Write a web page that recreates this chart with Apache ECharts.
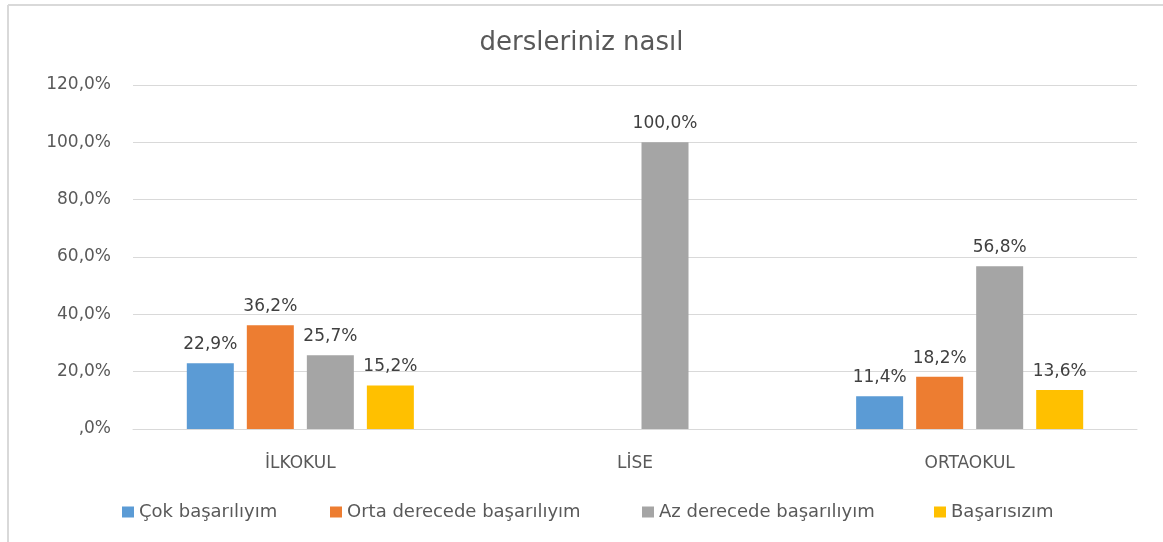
<!DOCTYPE html>
<html>
<head>
<meta charset="utf-8">
<script src="https://cdn.jsdelivr.net/npm/echarts@6/dist/echarts.min.js"></script>
<style>
html, body { margin: 0; padding: 0; background: #fff; }
#chart { width: 1163px; height: 542px; }
</style>
</head>
<body>
<div id="chart"></div>
<script>
var categories = ["İLKOKUL", "LİSE", "ORTAOKUL"];
var seriesNames = ["Çok başarılıyım", "Orta derecede başarılıyım", "Az derecede başarılıyım", "Başarısızım"];
var cokBasarili = [22.9, null, 11.4];
var ortaDerece = [36.2, null, 18.2];
var azDerece = [25.7, 100.0, 56.8];
var basarisiz = [15.2, null, 13.6];
var colors = ["#5b9bd5", "#ed7d31", "#a5a5a5", "#ffc000"];

var fmt = function (v) {
	// Excel biçimi: ,0% (baştaki sıfır yok)
	var s = Number(v).toFixed(1).replace(".", ",");
	if (s.indexOf("0,") === 0) s = s.substring(1);
	return s + "%";
};

var chart = echarts.init(document.getElementById("chart"));
var allData = [cokBasarili, ortaDerece, azDerece, basarisiz];
var legendLeft = [122, 330, 642, 934];
var font = "DejaVu Sans";

var series = [];
var legends = [];
for (var i = 0; i < seriesNames.length; i++) {
	series.push({
		name: seriesNames[i],
		type: "bar",
		data: allData[i],
		barWidth: 47,
		barGap: "27.7%",
		itemStyle: { color: colors[i] },
		label: {
			show: true,
			position: "top",
			distance: 10,
			color: "#404040",
			fontFamily: font,
			fontSize: 17,
			formatter: function (p) { return fmt(p.value); }
		}
	});
	legends.push({
		data: [seriesNames[i]],
		left: legendLeft[i],
		top: 503,
		padding: 0,
		itemWidth: 12,
		itemHeight: 11,
		icon: "rect",
		itemGap: 4,
		textStyle: { color: "#595959", fontFamily: font, fontSize: 18 }
	});
}

chart.setOption({
	animation: false,
	title: {
		text: "dersleriniz nasıl",
		left: "center",
		top: 25,
		textStyle: { color: "#595959", fontFamily: font, fontSize: 26, fontWeight: "normal" }
	},
	legend: legends,
	grid: { left: 133, right: 26, top: 85, bottom: 113 },
	xAxis: {
		type: "category",
		data: categories,
		axisLine: { lineStyle: { color: "#d9d9d9" } },
		axisTick: { show: false },
		axisLabel: { color: "#595959", fontFamily: font, fontSize: 17, margin: 26 }
	},
	yAxis: {
		type: "value",
		min: 0,
		max: 120,
		interval: 20,
		axisLine: { show: false },
		axisTick: { show: false },
		splitLine: { lineStyle: { color: "#d9d9d9" } },
		axisLabel: { color: "#595959", fontFamily: font, fontSize: 17, margin: 22, formatter: fmt }
	},
	graphic: [
		{ type: "line", shape: { x1: 8, y1: 5, x2: 1163, y2: 5 }, style: { stroke: "#d9d9d9", lineWidth: 2 } },
		{ type: "line", shape: { x1: 8, y1: 5, x2: 8, y2: 542 }, style: { stroke: "#d9d9d9", lineWidth: 2 } }
	],
	series: series
});
</script>
</body>
</html>
